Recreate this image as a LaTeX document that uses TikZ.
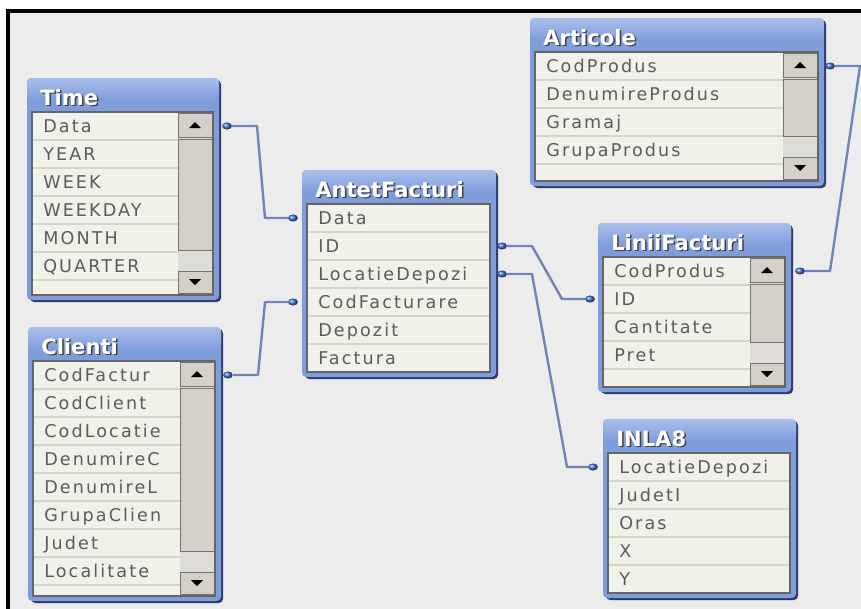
\documentclass[tikz,border=0pt]{standalone}
\usepackage{fontspec}
\usetikzlibrary{calc,shapes.geometric}
\newfontfamily\rowfont[LetterSpace=12]{DejaVu Sans}
\newfontfamily\headfont{DejaVu Sans}

\definecolor{canvas}{HTML}{ECECEC}
\definecolor{listc}{HTML}{F1F0E9}
\definecolor{sepc}{HTML}{D6D5CC}
\definecolor{bodyc}{HTML}{7F9CDB}
\definecolor{bodytop}{HTML}{AABEEB}
\definecolor{shadowc}{HTML}{2E3C66}
\definecolor{rowtext}{HTML}{5C5C5C}
\definecolor{btnc}{HTML}{D4D0C8}
\definecolor{trackc}{HTML}{DEDCD6}
\definecolor{linkc}{HTML}{7383B5}
\definecolor{dotc}{HTML}{3D6FD0}

% frame of one table: name, width, height, title
\newcommand{\tablebox}[4]{%
	\fill[shadowc,rounded corners=3pt] (-2,-32) rectangle (#2+8,#3+7);
	\fill[bodyc,rounded corners=3pt] (-5,-34) rectangle (#2+6,#3+5);
	\shade[top color=bodytop,bottom color=bodyc,rounded corners=3pt] (-5,-34) rectangle (#2+6,-12);
	\fill[listc] (0,0) rectangle (#2,#3);
	\node[headshadow] at (9.5,-5.5) {#4};
	\node[head] (#1) at (8,-7) {#4};
}
% scroll bar at the right of a list: width, height
\newcommand{\tablescroll}[2]{%
	\fill[trackc] (#1-35,1) rectangle (#1-1,#2-2);
	\draw[button] (#1-35,1) rectangle (#1-1,25);
	\draw[button] (#1-35,27) rectangle (#1-1,#2-45);
	\draw[button] (#1-35,#2-24) rectangle (#1-1,#2-2);
	\fill (#1-24,16) -- (#1-12,16) -- (#1-18,10) -- cycle;
	\fill (#1-24,#2-16) -- (#1-12,#2-16) -- (#1-18,#2-10) -- cycle;
}

\begin{document}
\begin{tikzpicture}[
		x=0.025cm, y=-0.025cm,
		row/.style={anchor=base west, inner sep=0pt, text=rowtext,
			font=\rowfont\fontsize{12.5}{13}\selectfont},
		head/.style={anchor=base west, inner sep=0pt, text=white,
			font=\headfont\bfseries\fontsize{15}{15}\selectfont},
		headshadow/.style={head, text=black!75},
		sep/.style={sepc, line width=1pt},
		listedge/.style={black!60, line width=0.8pt},
		button/.style={fill=btnc, draw=black!55, line width=0.7pt},
		dot/.style={ellipse, minimum width=7pt, minimum height=5pt, inner sep=0pt,
			shading=ball, ball color=dotc},
		link/.style={linkc, line width=1.7pt, line join=round},
	]
	\clip (0,0) rectangle (861,608);
	\fill[white] (0,0) rectangle (861,608);
	\draw[line width=2.2pt, fill=canvas] (8,11) rectangle (900,650);

	% ---------- Time ----------
	\begin{scope}[shift={(32,112)}]
		\tablebox{time}{181}{183}{Time}
		\foreach \t [count=\i] in {Data,YEAR,WEEK,WEEKDAY,MONTH,QUARTER}
			\node[row] (time-\i) at (11,{(\i-0.5)*28+6}) {\t};
		\foreach \i in {1,...,6} \draw[sep] (0,\i*28) -- (181,\i*28);
		\tablescroll{181}{183}
		\draw[listedge] (0,0) rectangle (181,183);
		\node[dot] (dot-time) at (195,14) {};
	\end{scope}

	% ---------- Clienti ----------
	\begin{scope}[shift={(33,361)}]
		\tablebox{clienti}{182}{235}{Clienti}
		\foreach \t [count=\i] in {CodFactur,CodClient,CodLocatie,DenumireC,DenumireL,GrupaClien,Judet,Localitate}
			\node[row] (clienti-\i) at (11,{(\i-0.5)*28+6}) {\t};
		\foreach \i in {1,...,8} \draw[sep] (0,\i*28) -- (182,\i*28);
		\tablescroll{182}{235}
		\draw[listedge] (0,0) rectangle (182,235);
		\node[dot] (dot-clienti) at (195,14) {};
	\end{scope}

	% ---------- AntetFacturi ----------
	\begin{scope}[shift={(307,204)}]
		\tablebox{antet}{183}{168}{AntetFacturi}
		\foreach \t [count=\i] in {Data,ID,LocatieDepozi,CodFacturare,Depozit,Factura}
			\node[row] (antet-\i) at (11,{(\i-0.5)*28+6}) {\t};
		\foreach \i in {1,...,5} \draw[sep] (0,\i*28) -- (183,\i*28);
		\draw[listedge] (0,0) rectangle (183,168);
		\node[dot] (dot-antet-data) at (-14,14) {};
		\node[dot] (dot-antet-cod) at (-14,98) {};
		\node[dot] (dot-antet-id) at (195,42) {};
		\node[dot] (dot-antet-loc) at (195,70) {};
	\end{scope}

	% ---------- Articole ----------
	\begin{scope}[shift={(535,52)}]
		\tablebox{articole}{283}{129}{Articole}
		\foreach \t [count=\i] in {CodProdus,DenumireProdus,Gramaj,GrupaProdus}
			\node[row] (articole-\i) at (11,{(\i-0.5)*28+6}) {\t};
		\foreach \i in {1,...,4} \draw[sep] (0,\i*28) -- (283,\i*28);
		\tablescroll{283}{129}
		\draw[listedge] (0,0) rectangle (283,129);
		\node[dot] (dot-articole) at (295,14) {};
	\end{scope}

	% ---------- LiniiFacturi ----------
	\begin{scope}[shift={(603,257)}]
		\tablebox{linii}{182}{130}{LiniiFacturi}
		\foreach \t [count=\i] in {CodProdus,ID,Cantitate,Pret}
			\node[row] (linii-\i) at (11,{(\i-0.5)*28+6}) {\t};
		\foreach \i in {1,...,4} \draw[sep] (0,\i*28) -- (182,\i*28);
		\tablescroll{182}{130}
		\draw[listedge] (0,0) rectangle (182,130);
		\node[dot] (dot-linii-id) at (-13,42) {};
		\node[dot] (dot-linii-cod) at (197,14) {};
	\end{scope}

	% ---------- INLA8 ----------
	\begin{scope}[shift={(608,453)}]
		\tablebox{inla}{182}{140}{INLA8}
		\foreach \t [count=\i] in {LocatieDepozi,JudetI,Oras,X,Y}
			\node[row] (inla-\i) at (11,{(\i-0.5)*28+6}) {\t};
		\foreach \i in {1,...,4} \draw[sep] (0,\i*28) -- (182,\i*28);
		\draw[listedge] (0,0) rectangle (182,140);
		\node[dot] (dot-inla-loc) at (-15,14) {};
	\end{scope}

	% ---------- links ----------
	\draw[link] (dot-time) -- ++(30,0) -- ($(dot-antet-data)+(-28,0)$) -- (dot-antet-data);
	\draw[link] (dot-clienti) -- ++(30,0) -- ($(dot-antet-cod)+(-28,0)$) -- (dot-antet-cod);
	\draw[link] (dot-antet-id) -- ++(30,0) -- ($(dot-linii-id)+(-28,0)$) -- (dot-linii-id);
	\draw[link] (dot-antet-loc) -- ++(30,0) -- ($(dot-inla-loc)+(-26,0)$) -- (dot-inla-loc);
	\draw[link] (dot-articole) -- ++(30,0) -- ($(dot-linii-cod)+(30,0)$) -- (dot-linii-cod);

\end{tikzpicture}
\end{document}
